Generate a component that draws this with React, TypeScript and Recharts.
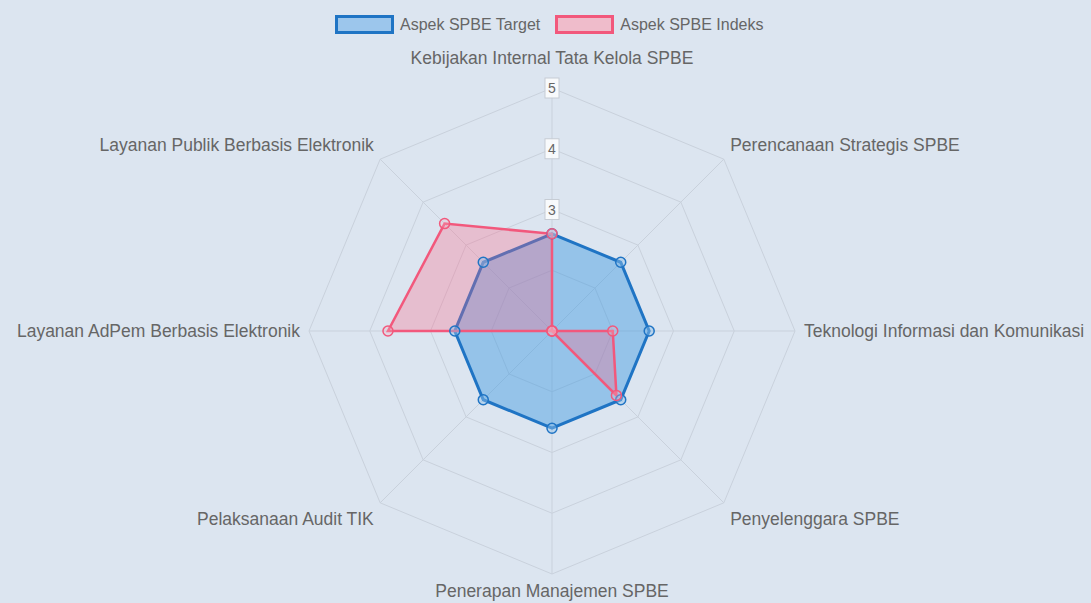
import { RadarChart, Radar, PolarGrid, PolarAngleAxis, PolarRadiusAxis } from "recharts";

const aspek = [
  "Kebijakan Internal Tata Kelola SPBE",
  "Perencanaan Strategis SPBE",
  "Teknologi Informasi dan Komunikasi",
  "Penyelenggara SPBE",
  "Penerapan Manajemen SPBE",
  "Pelaksanaan Audit TIK",
  "Layanan AdPem Berbasis Elektronik",
  "Layanan Publik Berbasis Elektronik",
];
const target = [2.6, 2.6, 2.6, 2.6, 2.6, 2.6, 2.6, 2.6];
const indeks = [2.6, 1, 2.0, 2.5, 1, 1, 3.7, 3.5];
const seriesNames = ["Aspek SPBE Target", "Aspek SPBE Indeks"];

const data = aspek.map((a, i) => ({ aspek: a, target: target[i], indeks: indeks[i] }));

const CX = 552;
const CY = 331;
const R = 243;
const FONT = '"Liberation Sans", Arial, sans-serif';
const BLUE = "#1f74c4";
const PINK = "#f2587c";

function AngleTick(props: any) {
  const { x, y, payload } = props;
  const a = Math.atan2(y - CY, x - CX);
  const cos = Math.cos(a);
  const sin = Math.sin(a);
  const px = CX + (R + 9) * cos;
  const py = CY + (R + 9) * sin;
  const anchor = Math.abs(cos) < 0.1 ? "middle" : cos > 0 ? "start" : "end";
  // vertical placement like chart.js point labels
  let dy = 6;
  if (sin < -0.9) dy = -15;
  else if (sin < -0.1) dy = -2;
  else if (sin > 0.9) dy = 14;
  else if (sin > 0.1) dy = 16;
  return (
    <text x={px} y={py + dy} textAnchor={anchor} fontSize={17.5} fill="#666" fontFamily={FONT}>
      {payload.value}
    </text>
  );
}

function RadiusTick(props: any) {
  const { x, y, payload } = props;
  if (payload.value < 3) return null;
  return (
    <g>
      <rect x={x - 7} y={y - 10} width={14} height={20} fill="#fff" fillOpacity={0.8} stroke="#c6ccd4" strokeWidth={1} />
      <text x={x} y={y + 5} textAnchor="middle" fontSize={14} fill="#666" fontFamily={FONT}>
        {payload.value}
      </text>
    </g>
  );
}

function LegendBox({ color, fill, label }: { color: string; fill: string; label: string }) {
  return (
    <div style={{ display: "flex", alignItems: "center" }}>
      <div style={{ width: 53, height: 13, border: `3px solid ${color}`, background: fill }} />
      <span style={{ marginLeft: 6, fontSize: 16, color: "#666", fontFamily: FONT }}>{label}</span>
    </div>
  );
}

export default function App() {
  return (
    <div style={{ position: "absolute", left: 0, top: 0, width: 1091, height: 603, background: "#dce5f0" }}>
      <div style={{ position: "absolute", left: 335, top: 15, display: "flex", gap: 15 }}>
        <LegendBox color={BLUE} fill="#9cc6ec" label={seriesNames[0]} />
        <LegendBox color={PINK} fill="#efbccb" label={seriesNames[1]} />
      </div>
      <RadarChart
        width={1091}
        height={603}
        data={data}
        cx={CX}
        cy={CY}
        outerRadius={R}
        margin={{ top: 0, right: 0, bottom: 0, left: 0 }}
      >
        <PolarGrid stroke="#c9d1dc" strokeWidth={1} />
        <PolarAngleAxis dataKey="aspek" tick={AngleTick} tickLine={false} axisLine={false} />
        <PolarRadiusAxis angle={90} domain={[1, 5]} tickCount={5} axisLine={false} tick={RadiusTick} />
        <Radar
          name={seriesNames[0]}
          dataKey="target"
          stroke={BLUE}
          strokeWidth={3}
          fill="#3d98e0"
          fillOpacity={0.45}
          dot={{ r: 5, fill: "#8fc0ea", stroke: BLUE, strokeWidth: 1.5 }}
          isAnimationActive={false}
        />
        <Radar
          name={seriesNames[1]}
          dataKey="indeks"
          stroke={PINK}
          strokeWidth={2.5}
          fill="#ff6384"
          fillOpacity={0.3}
          dot={{ r: 5, fill: "#f1b3c4", stroke: PINK, strokeWidth: 1.5 }}
          isAnimationActive={false}
        />
      </RadarChart>
    </div>
  );
}
